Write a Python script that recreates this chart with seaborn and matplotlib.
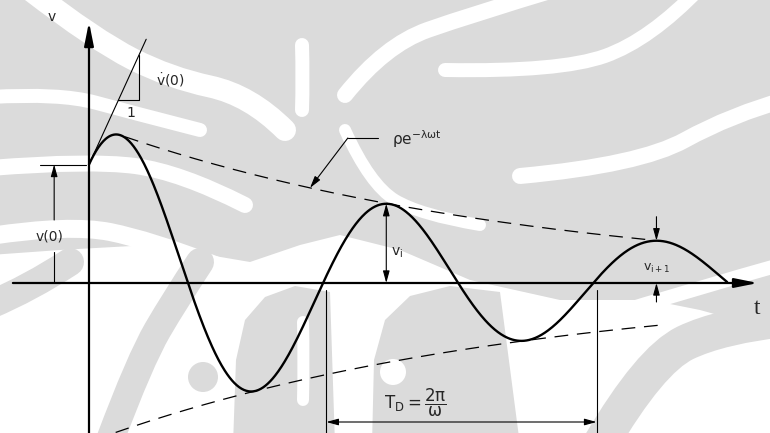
import numpy as np
import matplotlib
matplotlib.use("Agg")
import matplotlib.pyplot as plt
from matplotlib.path import Path
from matplotlib.patches import PathPatch, Circle, Polygon
import seaborn as sns

# ---- free-vibration response  v(t) = rho * exp(-lam*omega*t) * cos(omega*t - theta)
rho = 1.59          # envelope amplitude
lam = 0.10          # damping ratio
omega = 1.0         # damped circular frequency
theta = 0.73        # phase angle
t_end = 14.84       # last zero crossing drawn

t_env_upper = [0.84, 13.10]   # drawn extent of upper envelope
t_env_lower = [0.62, 13.30]   # drawn extent of lower envelope
t_tangent_end = 1.33          # drawn extent of initial slope line
t_period_start = 5.52         # left edge of T_D dimension

labels = {
    "v_axis": "v",
    "t_axis": "t",
    "v0": "v(0)",
    "vdot0": r"$\dot{\mathrm{v}}\mathrm{(0)}$",
    "one": "1",
    "env": r"$\mathrm{ρe}^{\mathrm{-λωt}}$",
    "vi": r"$\mathrm{v_i}$",
    "vi1": r"$\mathrm{v_{i+1}}$",
    "TD": r"$\mathrm{T_D} = \dfrac{\mathrm{2π}}{\mathrm{ω}}$",
}

sns.set_theme(style="white")
plt.rcParams["font.family"] = ["DejaVu Sans"]
plt.rcParams["mathtext.fontset"] = "dejavusans"

fig = plt.figure(figsize=(7.7, 4.33), dpi=100)

# ---- faint background emblem (pixel coordinates, y downwards)
bg = fig.add_axes([0, 0, 1, 1])
bg.set_xlim(0, 770)
bg.set_ylim(433, 0)
bg.axis("off")
wm = (0.86, 0.86, 0.86)


def smooth(points):
    """Quadratic-bezier chain through midpoints of the given control polygon."""
    pts = np.asarray(points, float)
    verts = [pts[0]]
    codes = [Path.MOVETO]
    for i in range(1, len(pts) - 1):
        mid = (pts[i] + pts[i + 1]) / 2 if i < len(pts) - 2 else pts[i + 1]
        verts += [pts[i], mid]
        codes += [Path.CURVE3, Path.CURVE3]
    return Path(verts, codes)


def band(points, width, color=wm):
    bg.add_patch(PathPatch(smooth(points), fill=False, lw=width * 0.72,
                           edgecolor=color, capstyle="round", joinstyle="round"))


def blob(points, color=wm):
    bg.add_patch(Polygon(points, closed=True, facecolor=color, edgecolor="none"))


def dot(center, r, color=wm):
    bg.add_patch(Circle(center, r, facecolor=color, edgecolor="none"))


# upper feathered mass
blob([(-10, -10), (790, -10), (790, 335), (700, 310), (650, 300), (560, 300),
      (470, 280), (400, 250), (340, 235), (300, 245), (250, 262), (150, 245),
      (60, 250), (-10, 255)])
# white swooshes separating the feathers
band([(30, -10), (95, 40), (170, 78), (250, 95), (285, 130)], 22, "white")
band([(-10, 97), (60, 93), (130, 112), (200, 130)], 14, "white")
band([(-10, 168), (90, 160), (180, 172), (245, 205)], 16, "white")
band([(-10, 236), (70, 224), (150, 240), (215, 265)], 18, "white")
band([(302, 45), (303, 78), (302, 110)], 14, "white")
band([(560, -12), (470, 15), (385, 45), (345, 95)], 16, "white")
band([(700, -12), (650, 40), (560, 72), (445, 70)], 14, "white")
band([(790, 98), (730, 115), (640, 165), (520, 176)], 16, "white")
band([(790, 262), (690, 290), (600, 318)], 14, "white")
band([(345, 130), (370, 185), (420, 215), (480, 225)], 12, "white")
# lower shapes
band([(110, 440), (140, 360), (175, 300), (200, 262)], 28)
dot((203, 377), 15)
blob([(233, 445), (236, 360), (245, 320), (265, 297), (295, 286), (330, 292),
      (335, 445)])
band([(303, 322), (304, 360), (303, 400)], 12, "white")
blob([(372, 445), (374, 360), (385, 320), (410, 296), (450, 286), (500, 292),
      (520, 445)])
dot((393, 372), 13, "white")
band([(600, 445), (650, 360), (720, 326), (790, 318)], 36)
band([(-10, 305), (30, 288), (70, 262)], 28)

# ---- diagram
ax = fig.add_axes([0, 0, 1, 1])
ax.patch.set_alpha(0)
ax.set_xlim(-89 / 43, 681 / 43)
ax.set_ylim(-1.50, 2.83)
ax.axis("off")


def resp(t):
    return rho * np.exp(-lam * omega * t) * np.cos(omega * t - theta)


def env(t):
    return rho * np.exp(-lam * omega * t)


ink = "black"
t = np.linspace(0, t_end, 800)
sns.lineplot(x=t, y=resp(t), ax=ax, color=ink, lw=1.7, sort=False)

dash = (0, (11, 7))
tu = np.linspace(*t_env_upper, 300)
tl = np.linspace(*t_env_lower, 300)
ax.plot(tu, env(tu), color=ink, lw=0.9, linestyle=dash)
ax.plot(tl, -env(tl), color=ink, lw=0.9, linestyle=dash)

# coordinate axes
axis_head = "-|>,head_length=0.7,head_width=0.14"
ax.annotate("", xy=(0, 2.61), xytext=(0, -1.55),
            arrowprops=dict(arrowstyle=axis_head, color=ink, lw=1.6,
                            mutation_scale=20, shrinkA=0, shrinkB=0))
ax.annotate("", xy=(15.56, 0), xytext=(-1.77, 0),
            arrowprops=dict(arrowstyle=axis_head, color=ink, lw=1.6,
                            mutation_scale=20, shrinkA=0, shrinkB=0))
ax.text(-0.86, 2.66, labels["v_axis"], fontsize=10, ha="center", va="center")
ax.text(15.53, -0.25, labels["t_axis"], fontsize=17, ha="center", va="center",
        family="Liberation Serif")

thin = dict(color=ink, lw=0.8, shrinkA=0, shrinkB=0, mutation_scale=9)
head = "-|>,head_length=0.8,head_width=0.22"
both = "<|-|>,head_length=0.8,head_width=0.22"

# initial value v(0)
v0 = resp(0.0)
ax.plot([-1.14, -0.07], [v0, v0], color=ink, lw=0.8)
ax.plot([-0.81, -0.81], [0, 0.31], color=ink, lw=0.8)
ax.annotate("", xy=(-0.81, v0), xytext=(-0.81, 0.63),
            arrowprops=dict(arrowstyle=head, **thin))
ax.text(-0.91, 0.46, labels["v0"], fontsize=10, ha="center", va="center")

# initial slope
slope0 = rho * (np.sin(theta) - lam * np.cos(theta)) * omega
ax.plot([0, t_tangent_end], [v0, v0 + slope0 * t_tangent_end], color=ink, lw=0.8)
tri_v = 1.83
tri_ta = (tri_v - v0) / slope0
tri_tb = 1.16
ax.plot([tri_ta, tri_tb, tri_tb], [tri_v, tri_v, v0 + slope0 * tri_tb],
        color=ink, lw=0.8)
ax.text(0.98, 1.70, labels["one"], fontsize=10, ha="center", va="center")
ax.text(1.55, 2.03, labels["vdot0"], fontsize=10, ha="left", va="center")

# envelope label with leader
t_tip = 5.14
ax.plot([6.72, 6.02], [1.45, 1.45], color=ink, lw=0.8)
ax.annotate("", xy=(t_tip, env(t_tip)), xytext=(6.02, 1.45),
            arrowprops=dict(arrowstyle=head, **thin))
ax.text(7.05, 1.44, labels["env"], fontsize=11, ha="left", va="center")

# successive peaks
tp_i = theta + 2 * np.pi / omega - np.arctan(lam)
tp_i1 = tp_i + 2 * np.pi / omega
vp_i = resp(tp_i)
vp_i1 = resp(tp_i1)
ax.annotate("", xy=(tp_i, vp_i), xytext=(tp_i, 0),
            arrowprops=dict(arrowstyle=both, **thin))
ax.text(tp_i + 0.12, 0.30, labels["vi"], fontsize=10, ha="left", va="center")

ax.annotate("", xy=(tp_i1, vp_i1), xytext=(tp_i1, vp_i1 + 0.24),
            arrowprops=dict(arrowstyle=head, **thin))
ax.annotate("", xy=(tp_i1, 0), xytext=(tp_i1, -0.19),
            arrowprops=dict(arrowstyle=head, **thin))
ax.text(tp_i1, 0.15, labels["vi1"], fontsize=9, ha="center", va="center")

# damped period
t_pa = t_period_start
t_pb = t_pa + 2 * np.pi / omega
for tx in (t_pa, t_pb):
    ax.plot([tx, tx], [-0.07, -1.55], color=ink, lw=0.8)
ax.annotate("", xy=(t_pb, -1.39), xytext=(t_pa, -1.39),
            arrowprops=dict(arrowstyle=both, **thin))
ax.text(7.58, -1.20, labels["TD"], fontsize=12, ha="center", va="center")

fig.savefig("out.png", dpi=100)
